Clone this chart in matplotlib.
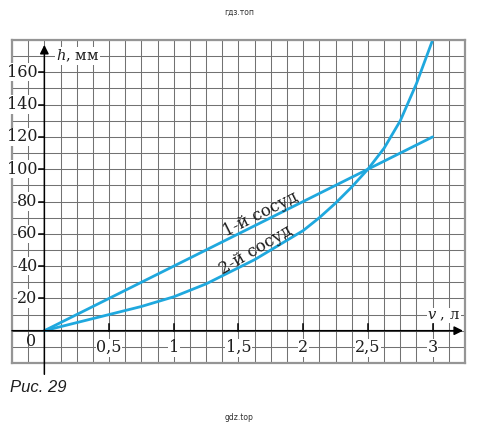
import matplotlib
matplotlib.use('Agg')
import matplotlib.pyplot as plt
import numpy as np

plt.rcParams['mathtext.fontset'] = 'dejavuserif'

# volume, l
vol = [0, 0.25, 0.5, 0.75, 1, 1.25, 1.5, 1.75, 2, 2.25, 2.5, 2.625, 2.75, 2.875, 3]
# height, mm
h1 = [0, 10, 20, 30, 40, 50, 60, 70, 80, 90, 100, 105, 110, 115, 120]
vol2 = [0, 0.25, 0.5, 0.75, 0.875, 1, 1.125, 1.25, 1.375, 1.5, 1.625, 1.75, 1.875,
        2, 2.125, 2.25, 2.375, 2.5, 2.625, 2.75, 2.875, 3]
h2 = [0, 5, 10, 15, 18, 21, 25, 29, 34, 39, 44, 50, 56,
      62, 70, 79, 89, 100, 113, 130, 153, 180]

x_ticks = [0.5, 1, 1.5, 2, 2.5, 3]
x_labels = ['0,5', '1', '1,5', '2', '2,5', '3']
y_ticks = [20, 40, 60, 80, 100, 120, 140, 160]

BLUE = '#1fa8de'
GRID = '#727272'
INK = '#1e1e1e'
SERIF = 'DejaVu Serif'

fig = plt.figure(figsize=(4.78, 4.32), dpi=100)
ax = fig.add_axes([12/478, 1-363/432, 453/478, 323/432])
ax.set_xlim(-0.25, 3.25)
ax.set_ylim(-20, 180)

# graph paper
ax.set_xticks(np.arange(-0.25, 3.26, 0.125))
ax.set_yticks(np.arange(-20, 181, 10))
ax.grid(True, color=GRID, lw=0.75)
ax.tick_params(length=0, labelbottom=False, labelleft=False)
for s in ax.spines.values():
    s.set_color('#959595')
    s.set_linewidth(1.6)

# axes with arrows
ax.annotate('', xy=(0, 177), xytext=(0, -27), annotation_clip=False,
            arrowprops=dict(arrowstyle='-|>', color='k', lw=1.1, mutation_scale=13, shrinkA=0, shrinkB=0))
ax.annotate('', xy=(3.235, 0), xytext=(-0.25, 0), annotation_clip=False,
            arrowprops=dict(arrowstyle='-|>', color='k', lw=1.1, mutation_scale=13, shrinkA=0, shrinkB=0))

wb = dict(facecolor='white', edgecolor='none', pad=0.5)
for y in y_ticks:
    ax.plot([-0.045, 0], [y, y], color='k', lw=1.1)
    ax.text(-0.052, y, str(y), ha='right', va='center', fontsize=11.5, family=SERIF,
            color=INK, bbox=wb)
for x, lab in zip(x_ticks, x_labels):
    ax.plot([x, x], [0, 4], color='k', lw=1.1)
    ax.text(x, -10.5, lab, ha='center', va='center', fontsize=11.5, family=SERIF,
            color=INK, bbox=wb)
ax.text(-0.06, -6.5, '0', ha='right', va='center', fontsize=11.5, family=SERIF, color=INK)

ax.text(0.09, 170, '$h$, мм', ha='left', va='center', fontsize=10.5, family=SERIF,
        color=INK, bbox=wb)
ax.text(2.96, 9.3, '$v$ , л', ha='left', va='center', fontsize=10.5, family=SERIF,
        color=INK, bbox=wb)

ax.plot(vol, h1, color=BLUE, lw=2, solid_capstyle='round')
ax.plot(vol2, h2, color=BLUE, lw=2, solid_capstyle='round', solid_joinstyle='round')

ax.text(1.69, 69.5, '1-й сосуд', rotation=26.6, ha='center', va='baseline', fontsize=12,
        family=SERIF, color=INK, rotation_mode='anchor')
ax.text(1.65, 47.5, '2-й сосуд', rotation=30.5, ha='center', va='baseline', fontsize=12,
        family=SERIF, color=INK, rotation_mode='anchor')

fig.text(10/478, 1-387/432, 'Рис. 29', ha='left', va='center', fontsize=12,
         style='italic', family='Liberation Sans', color=INK)
fig.text(0.5, 1-12/432, 'гдз.топ', ha='center', va='center', fontsize=5.5, color='#333333')
fig.text(0.5, 1-417/432, 'gdz.top', ha='center', va='center', fontsize=5.5, color='#333333')

fig.savefig('out.png', dpi=100)
